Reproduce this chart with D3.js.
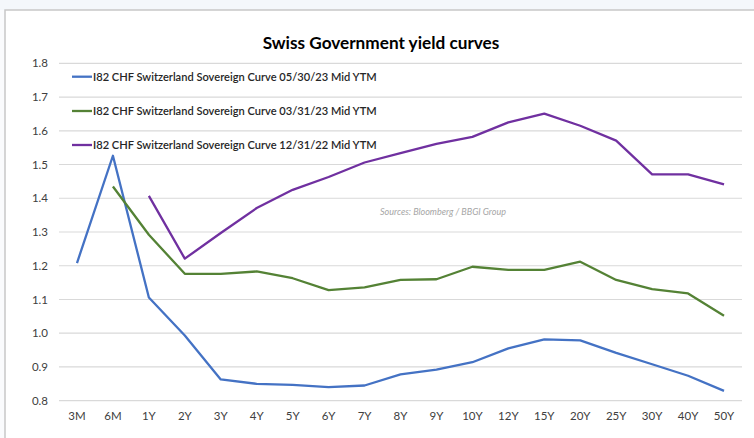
<!DOCTYPE html>
<html><head><meta charset="utf-8">
<script src="https://cdn.jsdelivr.net/npm/d3@7"></script>
<style>body{margin:0;background:#fff}svg{display:block}</style>
</head><body>
<svg id="c" width="754" height="438"></svg>
<script>
const categories = ["3M","6M","1Y","2Y","3Y","4Y","5Y","6Y","7Y","8Y","9Y","10Y","12Y","15Y","20Y","25Y","30Y","40Y","50Y"];
const may23 = [1.208,1.526,1.106,0.993,0.863,0.850,0.847,0.840,0.845,0.878,0.892,0.914,0.955,0.982,0.979,0.942,0.908,0.874,0.829];
const mar23 = [null,1.435,1.292,1.176,1.176,1.183,1.163,1.128,1.136,1.158,1.160,1.197,1.188,1.188,1.212,1.158,1.131,1.118,1.052];
const dec22 = [null,null,1.407,1.221,1.297,1.371,1.425,1.463,1.506,1.534,1.561,1.582,1.625,1.651,1.615,1.571,1.471,1.471,1.441];
const yTicks = [0.8,0.9,1.0,1.1,1.2,1.3,1.4,1.5,1.6,1.7,1.8];
const seriesNames = ["I82 CHF Switzerland Sovereign Curve 05/30/23 Mid YTM","I82 CHF Switzerland Sovereign Curve 03/31/23 Mid YTM","I82 CHF Switzerland Sovereign Curve 12/31/22 Mid YTM"];
const seriesColors = ["#4472C4","#548235","#7030A0"];
const title = "Swiss Government yield curves";
const source = "Sources: Bloomberg / BBGI Group";

const svg = d3.select("#c");
// background strip & frame
svg.append("rect").attr("x",0).attr("y",0).attr("width",754).attr("height",10).attr("fill","#f4f7fb");
svg.append("rect").attr("x",0).attr("y",10).attr("width",5).attr("height",428).attr("fill","#fafbfd");
svg.append("rect").attr("x",5).attr("y",10).attr("width",760).attr("height",440).attr("fill","#fff").attr("stroke","#c8c8c8").attr("stroke-width",1.5);

const x = d3.scaleBand().domain(categories).range([59,742]);
const y = d3.scaleLinear().domain([0.8,1.8]).range([400.7,63.3]);
const font = "Lato, 'Open Sans', sans-serif";

// gridlines
svg.append("g").selectAll("line").data(yTicks).join("line")
  .attr("x1",59).attr("x2",742).attr("y1",d=>y(d)).attr("y2",d=>y(d))
  .attr("stroke","#d9d9d9").attr("stroke-width",1.2);

// y axis
const ya = svg.append("g").attr("transform","translate(48,0)")
  .call(d3.axisLeft(y).tickValues(yTicks).tickFormat(d3.format(".1f")).tickSize(0).tickPadding(0));
ya.select(".domain").remove();
ya.selectAll("text").attr("font-family",font).attr("font-size",11.5).attr("fill","#404040");

// x axis
const xa = svg.append("g").attr("transform","translate(0,412)")
  .call(d3.axisBottom(x).tickSize(0).tickPadding(0));
xa.select(".domain").remove();
xa.selectAll("text").attr("font-family",font).attr("font-size",11.5).attr("fill","#404040").attr("dy","0.71em");

// lines
const line = d3.line().defined(d=>d.v!=null).x(d=>x(d.c)+x.bandwidth()/2).y(d=>y(d.v));
[may23,mar23,dec22].forEach((arr,i)=>{
  svg.append("path").datum(arr.map((v,j)=>({c:categories[j],v})))
    .attr("d",line).attr("fill","none").attr("stroke",seriesColors[i])
    .attr("stroke-width",2.3).attr("stroke-linejoin","round");
});

// legend
const legY = [76.7,111,145];
seriesNames.forEach((n,i)=>{
  svg.append("line").attr("x1",72).attr("x2",92).attr("y1",legY[i]).attr("y2",legY[i])
    .attr("stroke",seriesColors[i]).attr("stroke-width",2.3);
  svg.append("text").attr("x",93).attr("y",legY[i]).attr("dy","0.35em")
    .attr("font-family",font).attr("font-size",11.1).attr("font-weight",600)
    .attr("fill","#262626").text(n);
});

// title
svg.append("text").attr("x",381).attr("y",43).attr("dy","0.35em").attr("text-anchor","middle")
  .attr("font-family",font).attr("font-size",17.2).attr("font-weight",700).attr("fill","#000").text(title);

// source
svg.append("text").attr("x",380).attr("y",212).attr("dy","0.35em")
  .attr("font-family",font).attr("font-size",9).attr("font-style","italic").attr("fill","#a6a6a6").text(source);
</script>
</body></html>
